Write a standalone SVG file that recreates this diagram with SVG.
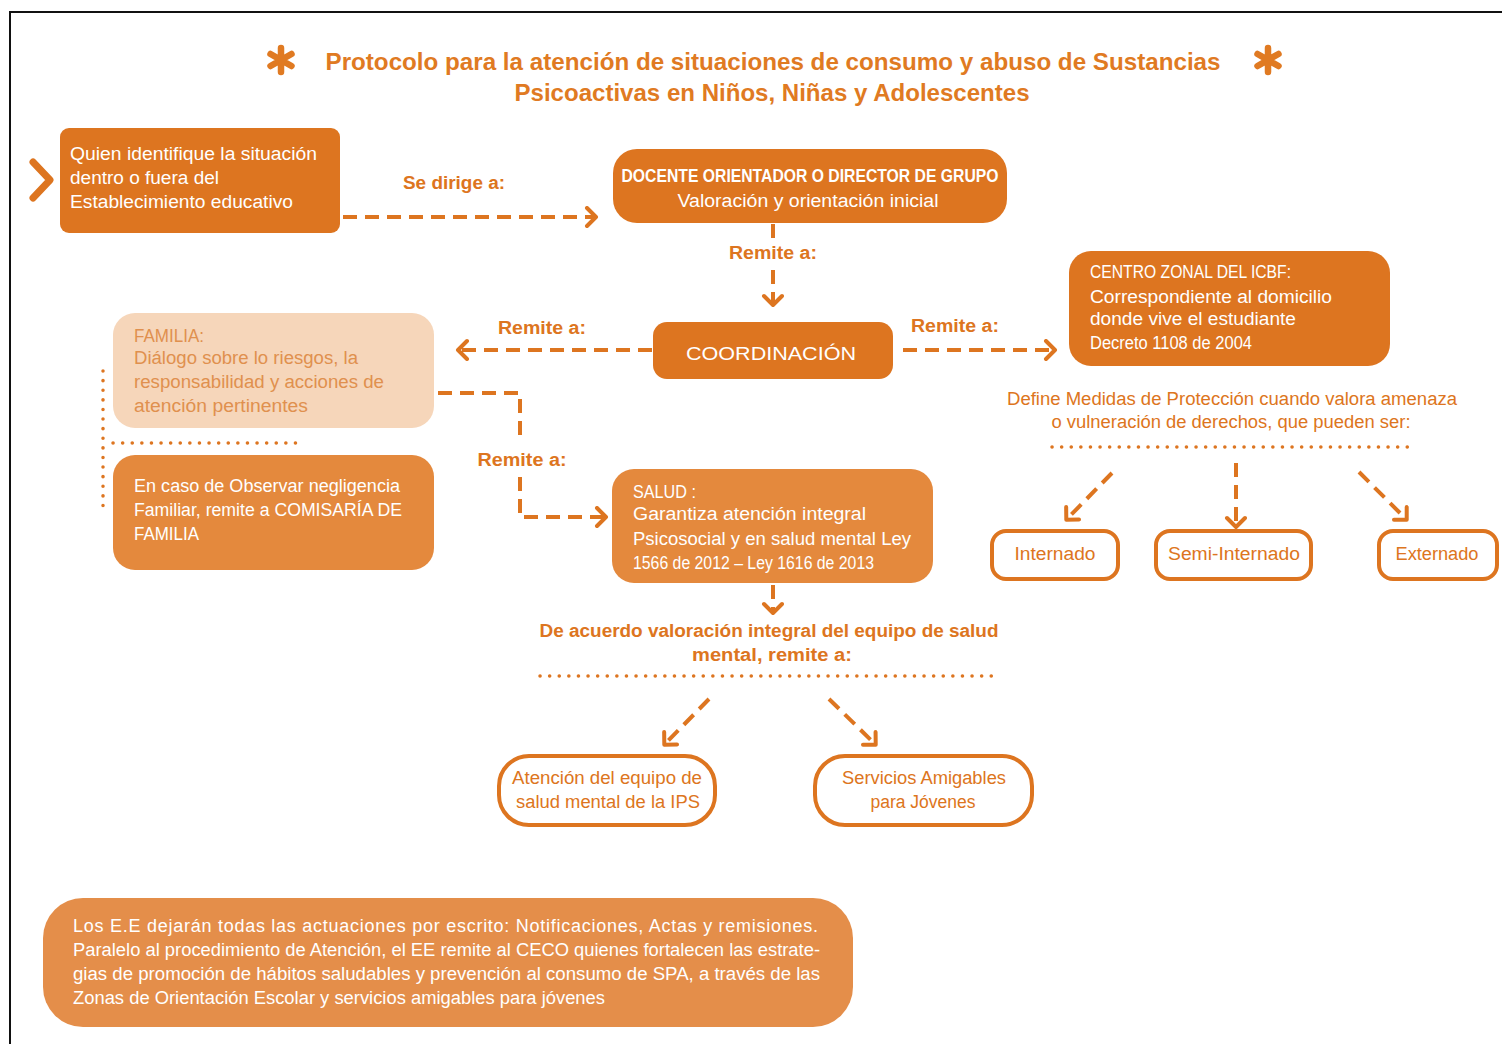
<svg xmlns="http://www.w3.org/2000/svg" width="1502" height="1044" viewBox="0 0 1502 1044">
<style>
text{font-family:"Liberation Sans",Arial,sans-serif}
.w{fill:#ffffff;font-size:18px}
.o{fill:#DD7520;font-size:18px}
.lbl{fill:#DD7520;font-size:18px;font-weight:bold}
.fam{fill:#E0904E;font-size:18px}
.dk{fill:#DD7520}
.lt{fill:#E4893D}
.ob{fill:#ffffff;stroke:#DD7520;stroke-width:4}
.dash{fill:none;stroke:#DD7520;stroke-width:4;stroke-dasharray:14 8}
.dot{fill:none;stroke:#DD7520;stroke-width:3.5;stroke-dasharray:0.1 9.5;stroke-linecap:round}
.mid{text-anchor:middle}
</style>
<defs>
<marker id="ah" markerUnits="userSpaceOnUse" markerWidth="24" markerHeight="24" refX="11" refY="11" orient="auto" viewBox="0 0 24 24">
<path d="M3,2 L12,11 L3,20" fill="none" stroke="#DD7520" stroke-width="4" stroke-linecap="round" stroke-linejoin="round" stroke-dasharray="none"/>
</marker>
</defs>
<rect x="0" y="0" width="1502" height="1044" fill="#ffffff"/>
<path d="M10,1044 V12 H1502" fill="none" stroke="#111" stroke-width="2"/>

<g id="title">
<g stroke="#E07A22" stroke-width="6.5" stroke-linecap="round">
<path d="M281,48 V72 M270.5,54 L291.5,66 M270.5,66 L291.5,54"/>
<path d="M1268,48 V72 M1257.5,54 L1278.5,66 M1257.5,66 L1278.5,54"/>
</g>
<text x="773" y="70" class="mid" fill="#E07A22" font-size="24" font-weight="bold" textLength="895" lengthAdjust="spacingAndGlyphs">Protocolo para la atención de situaciones de consumo y abuso de Sustancias</text>
<text x="772" y="101" class="mid" fill="#E07A22" font-size="24" font-weight="bold" textLength="515" lengthAdjust="spacingAndGlyphs">Psicoactivas en Niños, Niñas y Adolescentes</text>
</g>

<g id="connectors">
<polyline points="33,162 50,180 33,198" fill="none" stroke="#DD7520" stroke-width="7" stroke-linecap="round" stroke-linejoin="round"/>
<path class="dash" d="M343,217 H595" marker-end="url(#ah)"/>
<path class="dash" d="M773,224 V239"/>
<path class="dash" d="M773,270 V304" marker-end="url(#ah)"/>
<path class="dash" d="M652,350 H459" marker-end="url(#ah)"/>
<path class="dash" d="M903,350 H1054" marker-end="url(#ah)"/>
<path class="dash" d="M438,393 H520 V442"/>
<path class="dash" d="M520,477 V517 H605" marker-end="url(#ah)"/>
<path class="dash" d="M773,585 V612" marker-end="url(#ah)"/>
<path class="dash" d="M709,699 L665,744" marker-end="url(#ah)"/>
<path class="dash" d="M829,699 L875,744" marker-end="url(#ah)"/>
<path class="dash" d="M1112,473 L1067,519" marker-end="url(#ah)"/>
<path class="dash" d="M1236,463 V526" marker-end="url(#ah)"/>
<path class="dash" d="M1359,472 L1406,519" marker-end="url(#ah)"/>
<path class="dot" d="M1052,447 H1408"/>
<path class="dot" d="M540,676 H998"/>
<path class="dot" d="M113,443 H303"/>
<path class="dot" d="M103,371 V510" stroke-dasharray="0.1 7.5"/>
<text x="454" y="189" class="lbl mid" textLength="102" lengthAdjust="spacingAndGlyphs">Se dirige a:</text>
<text x="773" y="259" class="lbl mid" textLength="88" lengthAdjust="spacingAndGlyphs">Remite a:</text>
<text x="542" y="334" class="lbl mid" textLength="88" lengthAdjust="spacingAndGlyphs">Remite a:</text>
<text x="955" y="332" class="lbl mid" textLength="88" lengthAdjust="spacingAndGlyphs">Remite a:</text>
<text x="522" y="466" class="lbl mid" textLength="89" lengthAdjust="spacingAndGlyphs">Remite a:</text>
<text x="769" y="637" class="lbl mid" textLength="459" lengthAdjust="spacingAndGlyphs">De acuerdo valoración integral del equipo de salud</text>
<text x="772" y="661" class="lbl mid" textLength="160" lengthAdjust="spacingAndGlyphs">mental, remite a:</text>
<text x="1232" y="405" class="o mid" font-size="17" textLength="450" lengthAdjust="spacingAndGlyphs">Define Medidas de Protección cuando valora amenaza</text>
<text x="1231" y="428" class="o mid" font-size="17" textLength="359" lengthAdjust="spacingAndGlyphs">o vulneración de derechos, que pueden ser:</text>
</g>

<g id="quien">
<rect x="60" y="128" width="280" height="105" rx="9" class="dk"/>
<text x="70" y="160" class="w" textLength="247" lengthAdjust="spacingAndGlyphs">Quien identifique la situación</text>
<text x="70" y="184" class="w" textLength="149" lengthAdjust="spacingAndGlyphs">dentro o fuera del</text>
<text x="70" y="208" class="w" textLength="223" lengthAdjust="spacingAndGlyphs">Establecimiento educativo</text>
</g>

<g id="docente">
<rect x="613" y="149" width="394" height="74" rx="24" class="dk"/>
<text x="810" y="182" class="w mid" font-weight="bold" textLength="377" lengthAdjust="spacingAndGlyphs">DOCENTE ORIENTADOR O DIRECTOR DE GRUPO</text>
<text x="808" y="207" class="w mid" textLength="261" lengthAdjust="spacingAndGlyphs">Valoración y orientación inicial</text>
</g>

<g id="coordinacion">
<rect x="653" y="322" width="240" height="57" rx="14" class="dk"/>
<text x="771" y="360" class="w mid" font-size="26" textLength="170" lengthAdjust="spacingAndGlyphs">COORDINACIÓN</text>
</g>

<g id="icbf">
<rect x="1069" y="251" width="321" height="115" rx="22" class="dk"/>
<text x="1090" y="278" class="w" font-size="17" textLength="201" lengthAdjust="spacingAndGlyphs">CENTRO ZONAL DEL ICBF:</text>
<text x="1090" y="303" class="w" font-size="17" textLength="242" lengthAdjust="spacingAndGlyphs">Correspondiente al domicilio</text>
<text x="1090" y="325" class="w" font-size="17" textLength="206" lengthAdjust="spacingAndGlyphs">donde vive el estudiante</text>
<text x="1090" y="349" class="w" font-size="15" textLength="162" lengthAdjust="spacingAndGlyphs">Decreto 1108 de 2004</text>
</g>

<g id="familia">
<rect x="113" y="313" width="321" height="115" rx="22" fill="#F6D6BA"/>
<text x="134" y="342" class="fam" textLength="70" lengthAdjust="spacingAndGlyphs">FAMILIA:</text>
<text x="134" y="364" class="fam" textLength="224" lengthAdjust="spacingAndGlyphs">Diálogo sobre lo riesgos, la</text>
<text x="134" y="388" class="fam" textLength="250" lengthAdjust="spacingAndGlyphs">responsabilidad y acciones de</text>
<text x="134" y="412" class="fam" textLength="174" lengthAdjust="spacingAndGlyphs">atención pertinentes</text>
</g>

<g id="comisaria">
<rect x="113" y="455" width="321" height="115" rx="22" class="lt"/>
<text x="134" y="492" class="w" textLength="266" lengthAdjust="spacingAndGlyphs">En caso de Observar negligencia</text>
<text x="134" y="516" class="w" textLength="268" lengthAdjust="spacingAndGlyphs">Familiar, remite a COMISARÍA DE</text>
<text x="134" y="540" class="w" textLength="65" lengthAdjust="spacingAndGlyphs">FAMILIA</text>
</g>

<g id="salud">
<rect x="612" y="469" width="321" height="114" rx="22" class="lt"/>
<text x="633" y="498" class="w" font-size="17" textLength="63" lengthAdjust="spacingAndGlyphs">SALUD :</text>
<text x="633" y="520" class="w" font-size="17" textLength="233" lengthAdjust="spacingAndGlyphs">Garantiza atención integral</text>
<text x="633" y="545" class="w" font-size="17" textLength="278" lengthAdjust="spacingAndGlyphs">Psicosocial y en salud mental Ley</text>
<text x="633" y="569" class="w" font-size="16" textLength="241" lengthAdjust="spacingAndGlyphs">1566 de 2012 – Ley 1616 de 2013</text>
</g>

<g id="internado">
<rect x="992" y="531" width="126" height="48" rx="14" class="ob"/>
<text x="1055" y="560" class="o mid" textLength="81" lengthAdjust="spacingAndGlyphs">Internado</text>
</g>
<g id="semi">
<rect x="1156" y="531" width="155" height="48" rx="14" class="ob"/>
<text x="1234" y="560" class="o mid" textLength="132" lengthAdjust="spacingAndGlyphs">Semi-Internado</text>
</g>
<g id="externado">
<rect x="1379" y="531" width="118" height="48" rx="14" class="ob"/>
<text x="1437" y="560" class="o mid" textLength="83" lengthAdjust="spacingAndGlyphs">Externado</text>
</g>

<g id="ips">
<rect x="499" y="756" width="216" height="69" rx="30" class="ob"/>
<text x="607" y="784" class="o mid" textLength="190" lengthAdjust="spacingAndGlyphs">Atención del equipo de</text>
<text x="608" y="808" class="o mid" textLength="184" lengthAdjust="spacingAndGlyphs">salud mental de la IPS</text>
</g>
<g id="amigables">
<rect x="815" y="756" width="217" height="69" rx="30" class="ob"/>
<text x="924" y="784" class="o mid" textLength="164" lengthAdjust="spacingAndGlyphs">Servicios Amigables</text>
<text x="923" y="808" class="o mid" textLength="105" lengthAdjust="spacingAndGlyphs">para Jóvenes</text>
</g>

<g id="nota">
<rect x="43" y="898" width="810" height="129" rx="40" fill="#E48E4A"/>
<text x="73" y="932" class="w" font-size="17" textLength="745" lengthAdjust="spacing">Los E.E dejarán todas las actuaciones por escrito: Notificaciones, Actas y remisiones.</text>
<text x="73" y="956" class="w" font-size="17" textLength="747" lengthAdjust="spacingAndGlyphs">Paralelo al procedimiento de Atención, el EE remite al CECO quienes fortalecen las estrate-</text>
<text x="73" y="980" class="w" font-size="17" textLength="747" lengthAdjust="spacingAndGlyphs">gias de promoción de hábitos saludables y prevención al consumo de SPA, a través de las</text>
<text x="73" y="1004" class="w" font-size="17" textLength="532" lengthAdjust="spacingAndGlyphs">Zonas de Orientación Escolar y servicios amigables para jóvenes</text>
</g>
</svg>
